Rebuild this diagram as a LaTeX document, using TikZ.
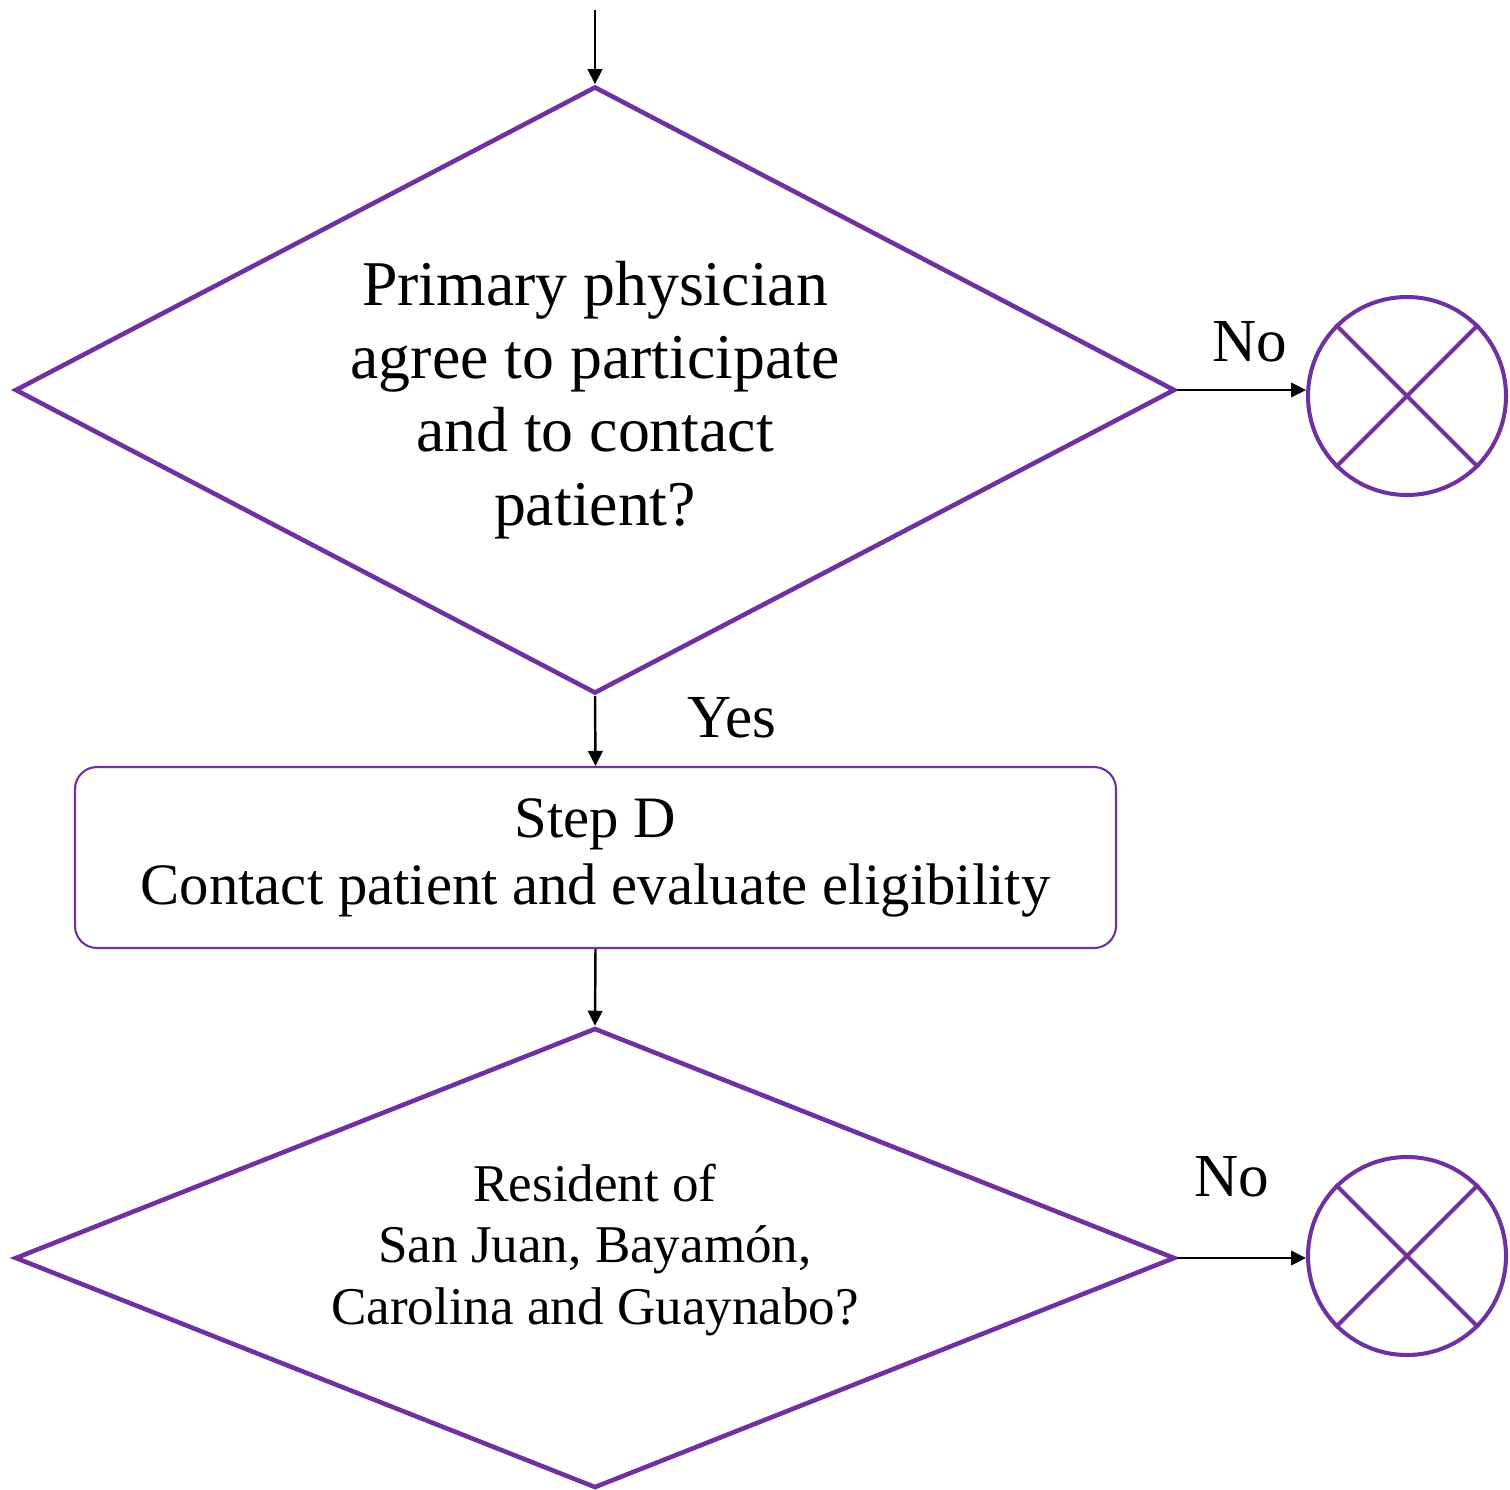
\documentclass[tikz,border=0pt]{standalone}
\usepackage{fontspec}
\setmainfont{Liberation Serif}
\usepackage{tikz}
\usetikzlibrary{shapes.geometric,arrows.meta}
\definecolor{violetline}{HTML}{7030A0}

\begin{document}
\begin{tikzpicture}[
  decision/.style={diamond,draw=violetline,line width=1.3pt,inner sep=0pt},
  question/.style={align=center,inner sep=0pt},
  stepbox/.style={rectangle,rounded corners=2.2mm,draw=violetline,line width=0.6pt,
    minimum width=10.41cm,minimum height=1.81cm,inner sep=0pt,align=center,
    font=\fontsize{16.7pt}{19.1pt}\selectfont},
  stopmark/.style={circle,draw=violetline,line width=1.15pt,minimum size=1.98cm,inner sep=0pt},
  flow/.style={-{Triangle[length=1.5mm,width=1.45mm]},line width=0.7pt},
  answer/.style={font=\fontsize{17.4pt}{20pt}\selectfont}]
  \useasboundingbox (0,0) rectangle (15.10,-14.89);

  \coordinate (S) at (5.95,-0.10);
  \node[decision,minimum width=11.60cm,minimum height=6.07cm,
    label={[question,yshift=-0.10cm,font=\fontsize{18.15pt}{20.8pt}\selectfont]center:
      Primary physician\\agree to participate\\and to contact\\patient?}] (D1) at (5.95,-3.90) {};
  \node[stepbox] (B) at (5.955,-8.575)
    {Step D\\Contact patient and evaluate eligibility};
  \node[decision,minimum width=11.60cm,minimum height=4.60cm,
    label={[question,yshift=0.08cm,font=\fontsize{15.1pt}{17.4pt}\selectfont]center:
      Resident of\\San Juan, Bayamón,\\Carolina and Guaynabo?}] (D2) at (5.95,-12.58) {};

  % exits
  \node[stopmark] (X1) at (14.07,-3.96) {};
  \node[stopmark] (X2) at (14.07,-12.56) {};
  \foreach \x in {X1,X2} {
    \draw[violetline,line width=1.15pt] (\x.45) -- (\x.225);
    \draw[violetline,line width=1.15pt] (\x.135) -- (\x.315);
  }

  \draw[flow] (S) -- (D1.north);
  \draw[flow] (D1.south) -- (B.north);
  \draw[flow] (B.south) -- (D2.north);
  \draw[flow] (D1.east) -- (D1.east -| X1.west);
  \draw[flow] (D2.east) -- (D2.east -| X2.west);

  \node[answer] (N1) at (12.50,-3.42) {No};
  \node[answer] (Y1) at (7.32,-7.18) {Yes};
  \node[answer] (N2) at (12.32,-11.77) {No};
\end{tikzpicture}
\end{document}
